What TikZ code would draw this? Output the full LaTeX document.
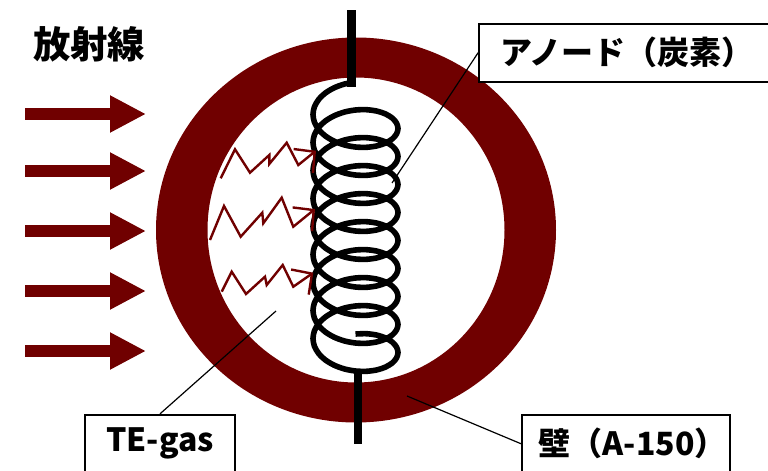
\documentclass[tikz,border=0pt]{standalone}
\usepackage{fontspec}
\setmainfont{Noto Sans CJK JP}
\usetikzlibrary{
    arrows.meta,
    positioning
}
\definecolor{wallred}{HTML}{700000}
\tikzset{
    labelbox/.style={draw=black,line width=1.3pt,fill=white,inner sep=0pt,minimum height=58*0.75pt,font=\fontsize{24}{28}\selectfont\bfseries},
    leader/.style={draw=black,line width=0.9pt},
    beam/.style={draw=wallred,line width=9pt,-{Triangle[length=27pt,width=26pt]}},
    ray/.style={draw=wallred,line width=1.8pt,line join=miter,-{Straight Barb[length=11pt,width=23pt]}},
    lead/.style={draw=black,line width=6.4pt}
}
\begin{document}
\begin{tikzpicture}[x=0.75pt,y=-0.75pt]
\useasboundingbox (0,0) rectangle (768,471);
\clip (0,0) rectangle (768,471);
% wall
\fill[wallred,even odd rule] (356,230) ellipse [x radius=200,y radius=192.5]
    (356,230) ellipse [x radius=148.5,y radius=152.5];
% title
\node[font=\fontsize{28}{30}\selectfont\bfseries,inner sep=0pt] (title) at (89,44) {放射線};
% incoming beams
\foreach \name/\yy in {a/114,b/171,c/231,d/291,e/351}{
    \coordinate (beam\name s) at (25,\yy);
    \coordinate (beam\name t) at (146,\yy);
    \draw[beam] (beam\name s) -- (beam\name t);
}
% anode
\coordinate (leadtopa) at (351.5,10);
\coordinate (leadtopb) at (351.5,87);
\coordinate (leadbota) at (358,370);
\coordinate (leadbotb) at (358,444);
\draw[lead] (leadtopa) -- (leadtopb);
\draw[lead,line width=5.6pt] (leadbota) -- (leadbotb);
\draw[black,line width=4.2pt,line join=round] plot[smooth,samples=217,domain=-360:2880,variable=\s]
    ({355.5-42.5*sin(\s)},{135.5+\s/360*28-25.5*cos(\s)});
% scattered rays
\draw[ray] (220.7,178.3) -- (235,149.3) -- (250,172.7) -- (269.3,155) -- (269.3,164) -- (286.7,142.7) -- (298.3,165) -- (316,150.7);
\draw[ray] (210,240) -- (224,206) -- (240.7,236.7) -- (262.3,212.7) -- (263.3,223.3) -- (281.7,197.7) -- (293.3,226.7) -- (315,209);
\draw[ray] (221.7,291.7) -- (231.7,271.7) -- (246,294) -- (265,276.7) -- (266.7,285) -- (282.7,265) -- (293.3,286.7) -- (313.3,272.7);
% labels
\node[labelbox,minimum width=293*0.75pt] (anode) at (625.5,52.7) {\hspace*{2pt}アノード（炭素）};
\node[labelbox,minimum width=150*0.75pt] (gas) at (160,443.7) {TE-gas};
\node[labelbox,minimum width=208.5*0.75pt] (wall) at (626,443.7) {\hspace*{10pt}壁（A-150）};
\coordinate (anodeend) at (392,183);
\coordinate (gasend) at (276,311);
\coordinate (wallend) at (407,396);
\draw[leader] (anode.west) -- (anodeend);
\draw[leader] (gas.north) -- (gasend);
\draw[leader] (wall.west) -- (wallend);
\end{tikzpicture}
\end{document}
